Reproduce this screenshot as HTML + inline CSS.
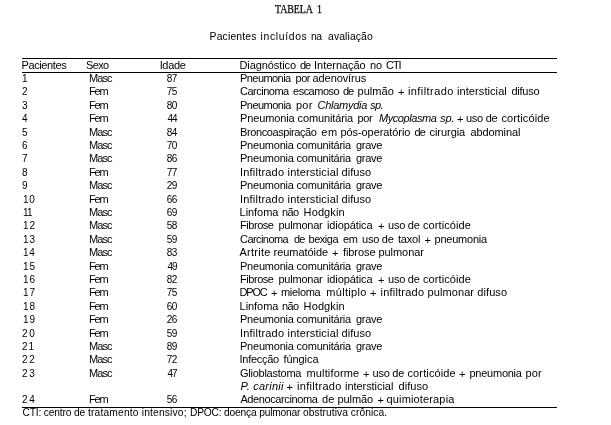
<!DOCTYPE html>
<html><head><meta charset="utf-8"><title>Tabela 1</title><style>
html,body{margin:0;padding:0;background:#fff;}
body{width:611px;height:425px;position:relative;overflow:hidden;color:#000;filter:grayscale(1);}
.t{position:absolute;font-family:"Liberation Sans",sans-serif;font-size:11px;line-height:13px;white-space:nowrap;}
.num{font-size:10px;}
.rule{position:absolute;left:22px;width:535px;height:1px;background:#000;}
.title{font-family:"Liberation Serif",serif;font-size:11.5px;transform:scaleX(0.86);transform-origin:0 0;-webkit-text-stroke:0.25px #000;}
.sub{font-size:10.4px;}
.foot{font-size:10.25px;line-height:12px;}
</style></head><body>
<div class="rule" style="top:58px"></div>
<div class="rule" style="top:72px"></div>
<div class="t sub" id="sw_0" style="left:209.62px;top:30px;letter-spacing:0.14px">Pacientes</div>
<div class="t sub" id="sw_1" style="left:260.60px;top:30px;letter-spacing:0.65px">incluídos</div>
<div class="t sub" id="sw_2" style="left:311.04px;top:30px;letter-spacing:-0.66px">na</div>
<div class="t sub" id="sw_3" style="left:328.00px;top:30px;letter-spacing:0.11px">avaliação</div>
<div class="t title" id="tt_0" style="left:275.26px;top:3px;letter-spacing:-0.07px">TABELA</div>
<div class="t title" id="tt_1" style="left:316.60px;top:3px">1</div>
<div class="t" id="hP" style="left:21.46px;top:59px;letter-spacing:-0.38px">Pacientes</div>
<div class="t" id="hS" style="left:86.10px;top:59px;letter-spacing:-0.66px">Sexo</div>
<div class="t" id="hI" style="left:159.64px;top:59px;letter-spacing:-0.31px">Idade</div>
<div class="t" id="hd_0" style="left:239.50px;top:59px;letter-spacing:-0.09px">Diagnóstico</div>
<div class="t" id="hd_1" style="left:300.11px;top:59px;letter-spacing:-1.20px">de</div>
<div class="t" id="hd_2" style="left:314.08px;top:59px;letter-spacing:-0.04px">Internação</div>
<div class="t" id="hd_3" style="left:370.00px;top:59px">no</div>
<div class="t" id="hd_4" style="left:386.00px;top:59px;letter-spacing:-1.06px">CTI</div>
<div class="t" id="n0" style="left:22.00px;top:72px"><span class="num">1</span></div>
<div class="t" id="s0" style="left:89.00px;top:72px;letter-spacing:-0.90px">Masc</div>
<div class="t" id="a0" style="left:166.64px;top:72px;letter-spacing:-0.48px"><span class="num">87</span></div>
<div class="t" id="w0_0" style="left:240.00px;top:72px;letter-spacing:-0.56px">Pneumonia</div>
<div class="t" id="w0_1" style="left:295.50px;top:72px;letter-spacing:-0.45px">por</div>
<div class="t" id="w0_2" style="left:312.52px;top:72px;letter-spacing:-0.08px">adenovírus</div>
<div class="t" id="n1" style="left:22.00px;top:85px"><span class="num">2</span></div>
<div class="t" id="s1" style="left:89.00px;top:85px;letter-spacing:-1.20px">Fem</div>
<div class="t" id="a1" style="left:166.64px;top:85px;letter-spacing:-0.48px"><span class="num">75</span></div>
<div class="t" id="w1_0" style="left:240.00px;top:85px;letter-spacing:-0.50px">Carcinoma</div>
<div class="t" id="w1_1" style="left:293.04px;top:85px;letter-spacing:-0.51px">escamoso</div>
<div class="t" id="w1_2" style="left:343.00px;top:85px;letter-spacing:-1.20px">de</div>
<div class="t" id="w1_3" style="left:357.52px;top:85px;letter-spacing:0.04px">pulmão</div>
<div class="t" id="w1_4" style="left:398.00px;top:86px">+</div>
<div class="t" id="w1_5" style="left:407.98px;top:85px;letter-spacing:0.42px">infiltrado</div>
<div class="t" id="w1_6" style="left:457.00px;top:85px;letter-spacing:0.08px">intersticial</div>
<div class="t" id="w1_7" style="left:511.44px;top:85px;letter-spacing:-0.25px">difuso</div>
<div class="t" id="n2" style="left:22.00px;top:99px"><span class="num">3</span></div>
<div class="t" id="s2" style="left:89.00px;top:99px;letter-spacing:-1.20px">Fem</div>
<div class="t" id="a2" style="left:166.64px;top:99px;letter-spacing:-0.48px"><span class="num">80</span></div>
<div class="t" id="w2_0" style="left:240.00px;top:99px;letter-spacing:-0.52px">Pneumonia</div>
<div class="t" id="w2_1" style="left:295.96px;top:99px;letter-spacing:0.27px">por</div>
<div class="t" id="w2_2" style="left:317.52px;top:99px;letter-spacing:-0.27px"><i>Chlamydia</i></div>
<div class="t" id="w2_3" style="left:369.98px;top:99px;letter-spacing:-0.54px"><i>sp.</i></div>
<div class="t" id="n3" style="left:22.00px;top:112px"><span class="num">4</span></div>
<div class="t" id="s3" style="left:89.00px;top:112px;letter-spacing:-1.20px">Fem</div>
<div class="t" id="a3" style="left:167.54px;top:112px;letter-spacing:-1.02px"><span class="num">44</span></div>
<div class="t" id="w3_0" style="left:240.00px;top:112px;letter-spacing:-0.12px">Pneumonia comunitária</div>
<div class="t" id="w3_1" style="left:357.54px;top:112px;letter-spacing:-0.36px">por</div>
<div class="t" id="w3_2" style="left:378.98px;top:112px;letter-spacing:-0.42px"><i>Mycoplasma</i></div>
<div class="t" id="w3_3" style="left:439.96px;top:112px"><i>sp.</i></div>
<div class="t" id="w3_4" style="left:457.02px;top:113px">+</div>
<div class="t" id="w3_5" style="left:466.02px;top:112px;letter-spacing:-0.29px">uso de</div>
<div class="t" id="w3_6" style="left:501.48px;top:112px;letter-spacing:0.12px">corticóide</div>
<div class="t" id="n4" style="left:22.00px;top:126px"><span class="num">5</span></div>
<div class="t" id="s4" style="left:89.00px;top:126px;letter-spacing:-0.90px">Masc</div>
<div class="t" id="a4" style="left:166.64px;top:126px;letter-spacing:-0.48px"><span class="num">84</span></div>
<div class="t" id="w4_0" style="left:240.04px;top:126px;letter-spacing:-0.41px">Broncoaspiração</div>
<div class="t" id="w4_1" style="left:321.30px;top:126px;letter-spacing:0.69px">em</div>
<div class="t" id="w4_2" style="left:340.50px;top:126px;letter-spacing:-0.08px">pós-operatório</div>
<div class="t" id="w4_3" style="left:414.50px;top:126px;letter-spacing:-0.93px">de</div>
<div class="t" id="w4_4" style="left:429.52px;top:126px;letter-spacing:-0.05px">cirurgia</div>
<div class="t" id="w4_5" style="left:470.50px;top:126px;letter-spacing:-0.11px">abdominal</div>
<div class="t" id="n5" style="left:22.00px;top:139px"><span class="num">6</span></div>
<div class="t" id="s5" style="left:89.00px;top:139px;letter-spacing:-0.90px">Masc</div>
<div class="t" id="a5" style="left:166.64px;top:139px;letter-spacing:-0.48px"><span class="num">70</span></div>
<div class="t" id="w5_0" style="left:240.00px;top:139px;letter-spacing:-0.22px">Pneumonia comunitária</div>
<div class="t" id="w5_1" style="left:356.02px;top:139px;letter-spacing:-0.27px">grave</div>
<div class="t" id="n6" style="left:22.00px;top:152px"><span class="num">7</span></div>
<div class="t" id="s6" style="left:89.00px;top:152px;letter-spacing:-0.90px">Masc</div>
<div class="t" id="a6" style="left:166.64px;top:152px;letter-spacing:-0.48px"><span class="num">86</span></div>
<div class="t" id="w6_0" style="left:240.00px;top:152px;letter-spacing:-0.22px">Pneumonia comunitária</div>
<div class="t" id="w6_1" style="left:356.02px;top:152px;letter-spacing:-0.27px">grave</div>
<div class="t" id="n7" style="left:22.00px;top:166px"><span class="num">8</span></div>
<div class="t" id="s7" style="left:89.00px;top:166px;letter-spacing:-1.20px">Fem</div>
<div class="t" id="a7" style="left:166.64px;top:166px;letter-spacing:-0.48px"><span class="num">77</span></div>
<div class="t" id="w7_0" style="left:240.04px;top:166px;letter-spacing:0.20px">Infiltrado</div>
<div class="t" id="w7_1" style="left:287.54px;top:166px;letter-spacing:0.18px">intersticial</div>
<div class="t" id="w7_2" style="left:341.52px;top:166px;letter-spacing:0.07px">difuso</div>
<div class="t" id="n8" style="left:22.00px;top:179px"><span class="num">9</span></div>
<div class="t" id="s8" style="left:89.00px;top:179px;letter-spacing:-0.90px">Masc</div>
<div class="t" id="a8" style="left:166.64px;top:179px;letter-spacing:-0.48px"><span class="num">29</span></div>
<div class="t" id="w8_0" style="left:240.00px;top:179px;letter-spacing:-0.22px">Pneumonia comunitária</div>
<div class="t" id="w8_1" style="left:356.02px;top:179px;letter-spacing:-0.27px">grave</div>
<div class="t" id="n9" style="left:22.90px;top:193px;letter-spacing:0.90px"><span class="num">10</span></div>
<div class="t" id="s9" style="left:89.00px;top:193px;letter-spacing:-1.20px">Fem</div>
<div class="t" id="a9" style="left:166.64px;top:193px;letter-spacing:-0.48px"><span class="num">66</span></div>
<div class="t" id="w9_0" style="left:240.04px;top:193px;letter-spacing:0.20px">Infiltrado</div>
<div class="t" id="w9_1" style="left:287.54px;top:193px;letter-spacing:0.18px">intersticial</div>
<div class="t" id="w9_2" style="left:341.52px;top:193px;letter-spacing:0.07px">difuso</div>
<div class="t" id="n10" style="left:22.90px;top:206px;letter-spacing:-0.72px"><span class="num">11</span></div>
<div class="t" id="s10" style="left:89.00px;top:206px;letter-spacing:-0.90px">Masc</div>
<div class="t" id="a10" style="left:166.64px;top:206px;letter-spacing:-0.48px"><span class="num">69</span></div>
<div class="t" id="w10_0" style="left:239.58px;top:206px;letter-spacing:-0.06px">Linfoma</div>
<div class="t" id="w10_1" style="left:281.98px;top:206px;letter-spacing:-0.54px">não</div>
<div class="t" id="w10_2" style="left:303.58px;top:206px;letter-spacing:0.12px">Hodgkin</div>
<div class="t" id="n11" style="left:22.90px;top:219px;letter-spacing:1.15px"><span class="num">12</span></div>
<div class="t" id="s11" style="left:89.00px;top:219px;letter-spacing:-0.90px">Masc</div>
<div class="t" id="a11" style="left:166.64px;top:219px;letter-spacing:-0.48px"><span class="num">58</span></div>
<div class="t" id="w11_0" style="left:240.00px;top:219px;letter-spacing:-0.45px">Fibrose</div>
<div class="t" id="w11_1" style="left:278.48px;top:219px;letter-spacing:-0.23px">pulmonar</div>
<div class="t" id="w11_2" style="left:327.00px;top:219px;letter-spacing:-0.10px">idiopática</div>
<div class="t" id="w11_3" style="left:377.98px;top:220px">+</div>
<div class="t" id="w11_4" style="left:388.02px;top:219px;letter-spacing:-0.25px">uso de</div>
<div class="t" id="w11_5" style="left:423.00px;top:219px;letter-spacing:0.08px">corticóide</div>
<div class="t" id="n12" style="left:22.90px;top:233px;letter-spacing:1.15px"><span class="num">13</span></div>
<div class="t" id="s12" style="left:89.00px;top:233px;letter-spacing:-0.90px">Masc</div>
<div class="t" id="a12" style="left:166.64px;top:233px;letter-spacing:-0.48px"><span class="num">59</span></div>
<div class="t" id="w12_0" style="left:240.00px;top:233px;letter-spacing:-0.56px">Carcinoma</div>
<div class="t" id="w12_1" style="left:293.98px;top:233px;letter-spacing:-0.84px">de</div>
<div class="t" id="w12_2" style="left:308.50px;top:233px;letter-spacing:-0.47px">bexiga</div>
<div class="t" id="w12_3" style="left:343.04px;top:233px;letter-spacing:-0.39px">em</div>
<div class="t" id="w12_4" style="left:362.02px;top:233px;letter-spacing:-0.25px">uso de</div>
<div class="t" id="w12_5" style="left:397.94px;top:233px;letter-spacing:-0.18px">taxol</div>
<div class="t" id="w12_6" style="left:424.50px;top:234px">+</div>
<div class="t" id="w12_7" style="left:434.56px;top:233px;letter-spacing:-0.23px">pneumonia</div>
<div class="t" id="n13" style="left:22.90px;top:246px;letter-spacing:0.90px"><span class="num">14</span></div>
<div class="t" id="s13" style="left:89.00px;top:246px;letter-spacing:-0.90px">Masc</div>
<div class="t" id="a13" style="left:166.64px;top:246px;letter-spacing:-0.48px"><span class="num">83</span></div>
<div class="t" id="w13_0" style="left:239.50px;top:246px;letter-spacing:0.27px">Artrite</div>
<div class="t" id="w13_1" style="left:273.52px;top:246px;letter-spacing:-0.04px">reumatóide</div>
<div class="t" id="w13_2" style="left:332.04px;top:247px">+</div>
<div class="t" id="w13_3" style="left:342.92px;top:246px;letter-spacing:-0.06px">fibrose pulmonar</div>
<div class="t" id="n14" style="left:22.90px;top:260px;letter-spacing:1.15px"><span class="num">15</span></div>
<div class="t" id="s14" style="left:89.00px;top:260px;letter-spacing:-1.20px">Fem</div>
<div class="t" id="a14" style="left:167.54px;top:260px;letter-spacing:-1.02px"><span class="num">49</span></div>
<div class="t" id="w14_0" style="left:240.00px;top:260px;letter-spacing:-0.22px">Pneumonia comunitária</div>
<div class="t" id="w14_1" style="left:356.02px;top:260px;letter-spacing:-0.27px">grave</div>
<div class="t" id="n15" style="left:22.90px;top:273px;letter-spacing:1.15px"><span class="num">16</span></div>
<div class="t" id="s15" style="left:89.00px;top:273px;letter-spacing:-1.20px">Fem</div>
<div class="t" id="a15" style="left:166.64px;top:273px;letter-spacing:-0.48px"><span class="num">82</span></div>
<div class="t" id="w15_0" style="left:240.00px;top:273px;letter-spacing:-0.45px">Fibrose</div>
<div class="t" id="w15_1" style="left:278.48px;top:273px;letter-spacing:-0.23px">pulmonar</div>
<div class="t" id="w15_2" style="left:327.00px;top:273px;letter-spacing:-0.10px">idiopática</div>
<div class="t" id="w15_3" style="left:377.98px;top:274px">+</div>
<div class="t" id="w15_4" style="left:388.02px;top:273px;letter-spacing:-0.25px">uso de</div>
<div class="t" id="w15_5" style="left:423.00px;top:273px;letter-spacing:0.08px">corticóide</div>
<div class="t" id="n16" style="left:22.90px;top:286px;letter-spacing:1.15px"><span class="num">17</span></div>
<div class="t" id="s16" style="left:89.00px;top:286px;letter-spacing:-1.20px">Fem</div>
<div class="t" id="a16" style="left:166.64px;top:286px;letter-spacing:-0.48px"><span class="num">75</span></div>
<div class="t" id="w16_0" style="left:239.52px;top:286px;letter-spacing:-1.20px">DPOC</div>
<div class="t" id="w16_1" style="left:271.00px;top:287px">+</div>
<div class="t" id="w16_2" style="left:281.02px;top:286px;letter-spacing:-0.31px">mieloma</div>
<div class="t" id="w16_3" style="left:326.22px;top:286px;letter-spacing:0.33px">múltiplo</div>
<div class="t" id="w16_4" style="left:370.00px;top:287px">+</div>
<div class="t" id="w16_5" style="left:380.48px;top:286px;letter-spacing:0.22px">infiltrado</div>
<div class="t" id="w16_6" style="left:427.54px;top:286px;letter-spacing:0.09px">pulmonar difuso</div>
<div class="t" id="n17" style="left:22.90px;top:300px;letter-spacing:1.15px"><span class="num">18</span></div>
<div class="t" id="s17" style="left:89.00px;top:300px;letter-spacing:-1.20px">Fem</div>
<div class="t" id="a17" style="left:166.64px;top:300px;letter-spacing:-0.48px"><span class="num">60</span></div>
<div class="t" id="w17_0" style="left:239.58px;top:300px;letter-spacing:-0.06px">Linfoma</div>
<div class="t" id="w17_1" style="left:281.98px;top:300px;letter-spacing:-0.54px">não</div>
<div class="t" id="w17_2" style="left:303.58px;top:300px;letter-spacing:0.12px">Hodgkin</div>
<div class="t" id="n18" style="left:22.90px;top:313px;letter-spacing:1.15px"><span class="num">19</span></div>
<div class="t" id="s18" style="left:89.00px;top:313px;letter-spacing:-1.20px">Fem</div>
<div class="t" id="a18" style="left:166.64px;top:313px;letter-spacing:-0.48px"><span class="num">26</span></div>
<div class="t" id="w18_0" style="left:240.00px;top:313px;letter-spacing:-0.22px">Pneumonia comunitária</div>
<div class="t" id="w18_1" style="left:356.02px;top:313px;letter-spacing:-0.27px">grave</div>
<div class="t" id="n19" style="left:22.00px;top:327px;letter-spacing:1.60px"><span class="num">20</span></div>
<div class="t" id="s19" style="left:89.00px;top:327px;letter-spacing:-1.20px">Fem</div>
<div class="t" id="a19" style="left:166.64px;top:327px;letter-spacing:-0.48px"><span class="num">59</span></div>
<div class="t" id="w19_0" style="left:240.04px;top:327px;letter-spacing:0.20px">Infiltrado</div>
<div class="t" id="w19_1" style="left:287.54px;top:327px;letter-spacing:0.18px">intersticial</div>
<div class="t" id="w19_2" style="left:341.52px;top:327px;letter-spacing:0.07px">difuso</div>
<div class="t" id="n20" style="left:22.00px;top:340px;letter-spacing:1.06px"><span class="num">21</span></div>
<div class="t" id="s20" style="left:89.00px;top:340px;letter-spacing:-0.90px">Masc</div>
<div class="t" id="a20" style="left:166.64px;top:340px;letter-spacing:-0.48px"><span class="num">89</span></div>
<div class="t" id="w20_0" style="left:240.00px;top:340px;letter-spacing:-0.22px">Pneumonia comunitária</div>
<div class="t" id="w20_1" style="left:356.02px;top:340px;letter-spacing:-0.27px">grave</div>
<div class="t" id="n21" style="left:22.00px;top:353px;letter-spacing:1.60px"><span class="num">22</span></div>
<div class="t" id="s21" style="left:89.00px;top:353px;letter-spacing:-0.90px">Masc</div>
<div class="t" id="a21" style="left:166.64px;top:353px;letter-spacing:-0.48px"><span class="num">72</span></div>
<div class="t" id="w21_0" style="left:239.58px;top:353px;letter-spacing:-0.28px">Infecção</div>
<div class="t" id="w21_1" style="left:283.44px;top:353px;letter-spacing:-0.06px">fúngica</div>
<div class="t" id="n22" style="left:22.00px;top:367px;letter-spacing:1.60px"><span class="num">23</span></div>
<div class="t" id="s22" style="left:89.00px;top:367px;letter-spacing:-0.90px">Masc</div>
<div class="t" id="a22" style="left:167.54px;top:367px;letter-spacing:-1.02px"><span class="num">47</span></div>
<div class="t" id="w22_0" style="left:240.00px;top:367px;letter-spacing:-0.25px">Glioblastoma</div>
<div class="t" id="w22_1" style="left:306.48px;top:367px;letter-spacing:0.15px">multiforme</div>
<div class="t" id="w22_2" style="left:362.98px;top:368px">+</div>
<div class="t" id="w22_3" style="left:372.56px;top:367px;letter-spacing:-0.25px">uso de</div>
<div class="t" id="w22_4" style="left:407.50px;top:367px;letter-spacing:0.12px">corticóide</div>
<div class="t" id="w22_5" style="left:459.02px;top:368px">+</div>
<div class="t" id="w22_6" style="left:469.50px;top:367px;letter-spacing:-0.25px">pneumonia</div>
<div class="t" id="w22_7" style="left:525.52px;top:367px;letter-spacing:0.09px">por</div>
<div class="t" id="w23_0" style="left:240.52px;top:380px;letter-spacing:0.24px"><i>P. carinii</i></div>
<div class="t" id="w23_1" style="left:286.44px;top:381px">+</div>
<div class="t" id="w23_2" style="left:296.98px;top:380px;letter-spacing:0.32px">infiltrado</div>
<div class="t" id="w23_3" style="left:345.00px;top:380px;letter-spacing:-0.05px">intersticial</div>
<div class="t" id="w23_4" style="left:398.52px;top:380px;letter-spacing:0.07px">difuso</div>
<div class="t" id="n24" style="left:22.00px;top:393px;letter-spacing:1.60px"><span class="num">24</span></div>
<div class="t" id="s24" style="left:89.00px;top:393px;letter-spacing:-1.20px">Fem</div>
<div class="t" id="a24" style="left:166.64px;top:393px;letter-spacing:-0.48px"><span class="num">56</span></div>
<div class="t" id="w24_0" style="left:240.42px;top:393px;letter-spacing:-0.39px">Adenocarcinoma</div>
<div class="t" id="w24_1" style="left:322.09px;top:393px;letter-spacing:0.06px">de</div>
<div class="t" id="w24_2" style="left:337.56px;top:393px;letter-spacing:-0.11px">pulmão</div>
<div class="t" id="w24_3" style="left:377.46px;top:394px">+</div>
<div class="t" id="w24_4" style="left:386.50px;top:393px;letter-spacing:0.15px">quimioterapia</div>
<div class="t foot" id="ft_0" style="left:22.44px;top:407px;letter-spacing:-0.17px">CTI: centro de</div>
<div class="t foot" id="ft_1" style="left:87.98px;top:407px;letter-spacing:0.17px">tratamento intensivo;</div>
<div class="t foot" id="ft_2" style="left:190.00px;top:407px;letter-spacing:-0.20px">DPOC: doença pulmonar</div>
<div class="t foot" id="ft_3" style="left:303.02px;top:407px;letter-spacing:0.05px">obstrutiva crônica.</div>
<div class="rule" style="top:407px"></div>
</body></html>
